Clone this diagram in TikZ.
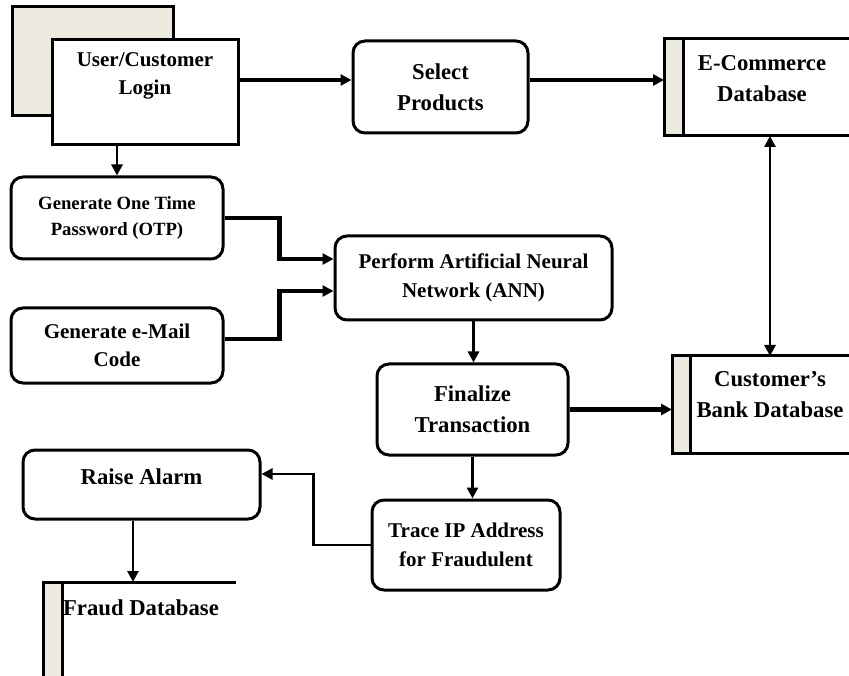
\documentclass[tikz,border=0pt]{standalone}
\usepackage{fontspec}
\setmainfont{Liberation Serif}
\usetikzlibrary{arrows.meta}

\definecolor{dbfill}{RGB}{236,233,222}
\newcommand{\fbig}{\fontsize{22.7}{31}\selectfont}
\newcommand{\fmid}{\fontsize{21}{28.5}\selectfont}
\newcommand{\fsmall}{\fontsize{18.7}{26}\selectfont}

\begin{document}
\begin{tikzpicture}[x=1pt,y=-1pt,
  box/.style={draw,line width=3pt,rounded corners=12pt,fill=white,align=center},
  db/.style={draw=none,line width=3pt,anchor=north west,minimum height=94pt,inner sep=0pt},
  btxt/.style={font=\bfseries\fbig},
  mtxt/.style={font=\bfseries\fmid},
  stxt/.style={font=\bfseries\fsmall},
  flow/.style={line width=2.8pt,-{Triangle[length=11pt,width=11pt]}},
  flowthick/.style={line width=4.5pt,-{Triangle[length=11pt,width=11pt]}},
  flowboth/.style={line width=2.8pt,{Triangle[length=11pt,width=11pt]}-{Triangle[length=11pt,width=11pt]}}]
\tikzstyle{label text} = [align=center,inner sep=0pt]
\tikzstyle{db edge} = [line width=3pt]

\useasboundingbox (0,0) rectangle (849,676);

% Login
\node[draw,line width=3pt,fill=dbfill,minimum width=161pt,minimum height=109pt] (loginback) at (92.5,61.5) {};
\node[draw,line width=3pt,fill=white,minimum width=186pt,minimum height=105pt] (login) at (145,92.5) {};
\node[label text,mtxt] (logintext) at (145,76) {User/Customer\\Login};

% Processes
\node[box,btxt,minimum width=175pt,minimum height=92pt] (select) at (440.5,87) {Select\\Products};
\node[box,stxt,minimum width=212pt,minimum height=82pt] (otp) at (117,218) {Generate One Time\\Password (OTP)};
\node[box,mtxt,minimum width=212pt,minimum height=75pt] (email) at (117,345.5) {Generate e-Mail\\Code};
\node[box,mtxt,minimum width=277pt,minimum height=84pt] (ann) at (473.5,278) {Perform Artificial Neural\\Network (ANN)};
\node[box,btxt,minimum width=191pt,minimum height=91pt] (finalize) at (472.5,409.5) {Finalize\\Transaction};
\node[box,mtxt,minimum width=188pt,minimum height=90pt] (trace) at (466,545) {Trace IP Address\\for Fraudulent};
\node[box,minimum width=237pt,minimum height=69pt] (raise) at (141.5,484.5) {};
\node[label text,btxt] (raisetext) at (141.5,477) {Raise Alarm};

% Databases
\node[db,minimum width=185pt] (ecom) at (664,39) {};
\fill[dbfill] (ecom.north west) rectangle ([xshift=19pt]ecom.south west);
\draw[db edge] (ecom.north east) -- (ecom.north west) -- (ecom.south west) -- (ecom.south east);
\draw[db edge] ([xshift=19pt]ecom.north west) -- ([xshift=19pt]ecom.south west);
\node[label text,btxt] (ecomtext) at (762,79) {E-Commerce\\Database};

\node[db,minimum width=177pt] (bank) at (672,356) {};
\fill[dbfill] (bank.north west) rectangle ([xshift=18pt]bank.south west);
\draw[db edge] (bank.north east) -- (bank.north west) -- (bank.south west) -- (bank.south east);
\draw[db edge] ([xshift=18pt]bank.north west) -- ([xshift=18pt]bank.south west);
\node[label text,btxt] (banktext) at (770,395) {Customer's\\Bank Database};

\node[db,minimum width=190pt,minimum height=92pt] (fraud) at (43,582) {};
\fill[dbfill] (fraud.north west) rectangle ([xshift=19pt]fraud.south west);
\draw[db edge] (fraud.north east) -- (fraud.north west) -- (fraud.south west);
\draw[db edge] ([xshift=19pt]fraud.north west) -- ([xshift=19pt]fraud.south west);
\draw[gray!40,line width=1pt] (fraud.south west) -- (fraud.south east);
\node[label text,btxt] (fraudtext) at (141,608) {Fraud Database};

% Arrows
\draw[flowthick] ([yshift=12.5pt]login.east) coordinate (l1) -- (l1 -| select.west);
\draw[flowthick] ([yshift=7pt]select.east) coordinate (s1) -- (s1 -| ecom.west);
\draw[flowboth] (banktext |- ecom.south) -- (banktext |- bank.north);
\draw[flow] (otp.north |- login.south) -- (otp.north);
\draw[flowthick] (otp.east) -- ++(55,0) |- ([yshift=19pt]ann.west);
\draw[flowthick] ([yshift=6.5pt]email.east) -- ++(55,0) |- ([yshift=-13pt]ann.west);
\draw[flow] (ann.south) -- (ann.south |- finalize.north);
\draw[flowthick] (finalize.east) -- (finalize.east -| bank.west);
\draw[flow] (finalize.south) -- (finalize.south |- trace.north);
\draw[flow] (trace.west) -- ++(-57,0) |- ([yshift=10.5pt]raise.east);
\draw[flow] ([xshift=-8.5pt]raise.south) coordinate (r1) -- (r1 |- fraud.north);

\end{tikzpicture}
\end{document}
